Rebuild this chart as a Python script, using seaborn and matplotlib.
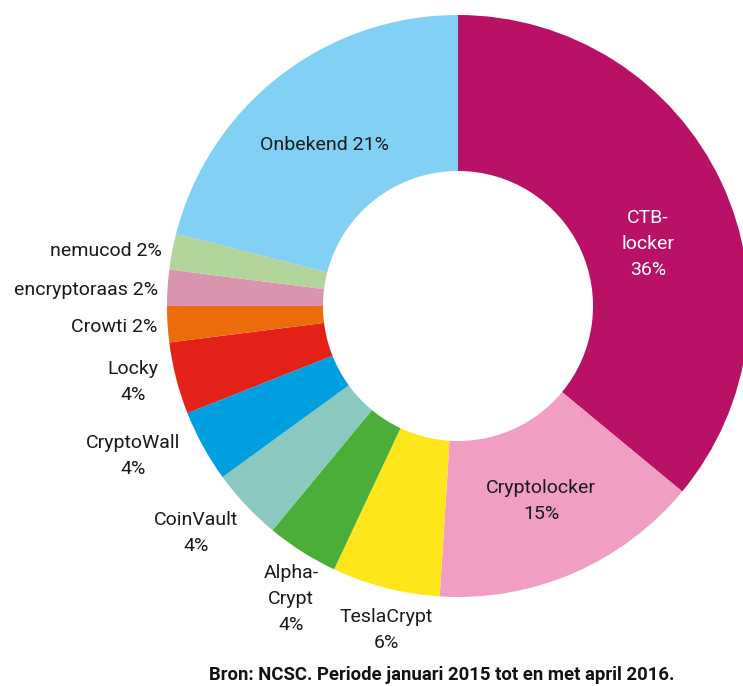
import matplotlib.pyplot as plt
import seaborn as sns

# ===========================
# Data
# ===========================
families = ["CTB-locker", "Cryptolocker", "TeslaCrypt", "Alpha-Crypt", "CoinVault",
            "CryptoWall", "Locky", "Crowti", "encryptoraas", "nemucod", "Onbekend"]
shares = [36, 15, 6, 4, 4, 4, 4, 2, 2, 2, 21]
label_texts = ["CTB-\nlocker\n36%", "Cryptolocker\n15%", "TeslaCrypt\n6%",
               "Alpha-\nCrypt\n4%", "CoinVault\n4%", "CryptoWall\n4%", "Locky\n4%",
               "Crowti 2%", "encryptoraas 2%", "nemucod 2%", "Onbekend 21%"]
colors = ["#B81166", "#F09EC4", "#FDE71B", "#4BAE38", "#8AC8C0", "#00A0E0",
          "#E32119", "#EC6B0A", "#D994B0", "#B3D49B", "#82D0F4"]
source = "Bron: NCSC. Periode januari 2015 tot en met april 2016."

# label anchor (pixels in the 743x686 picture), alignment, text colour
label_layout = [
    (648, 244, "center", "white"),
    (541, 501, "center", "#1a1a1a"),
    (386, 630, "center", "#1a1a1a"),
    (291, 599, "center", "#1a1a1a"),
    (196, 533, "center", "#1a1a1a"),
    (133, 456, "center", "#1a1a1a"),
    (133, 382, "center", "#1a1a1a"),
    (157, 327, "right", "#1a1a1a"),
    (158, 290, "right", "#1a1a1a"),
    (162, 251, "right", "#1a1a1a"),
    (324, 145, "center", "#1a1a1a"),
]

# ===========================
# Figure
# ===========================
sns.set_theme(style="white")
plt.rcParams["font.family"] = ["Roboto", "DejaVu Sans"]

W, H = 743, 686
cx, cy, R = 458, 306, 291

fig = plt.figure(figsize=(W / 100, H / 100), dpi=100)
ax = fig.add_axes([0, 0, 1, 1])

ax.pie(shares, colors=colors, startangle=90, counterclock=False, radius=1,
       wedgeprops=dict(width=0.536, linewidth=0))

# pie() resets the limits, so set them afterwards
ax.set_xlim(-cx / R, (W - cx) / R)
ax.set_ylim(-(H - cy) / R, cy / R)
ax.set_aspect("equal")
ax.axis("off")

for txt, (px, py, ha, col) in zip(label_texts, label_layout):
    ax.text((px - cx) / R, (cy - py) / R, txt, ha=ha, va="center", color=col,
            fontsize=14, linespacing=1.55)

fig.text(442 / W, 1 - 675 / H, source, ha="center", va="center",
         fontsize=13.3, fontweight="bold", color="#111111")

plt.savefig("out.png", dpi=100)
